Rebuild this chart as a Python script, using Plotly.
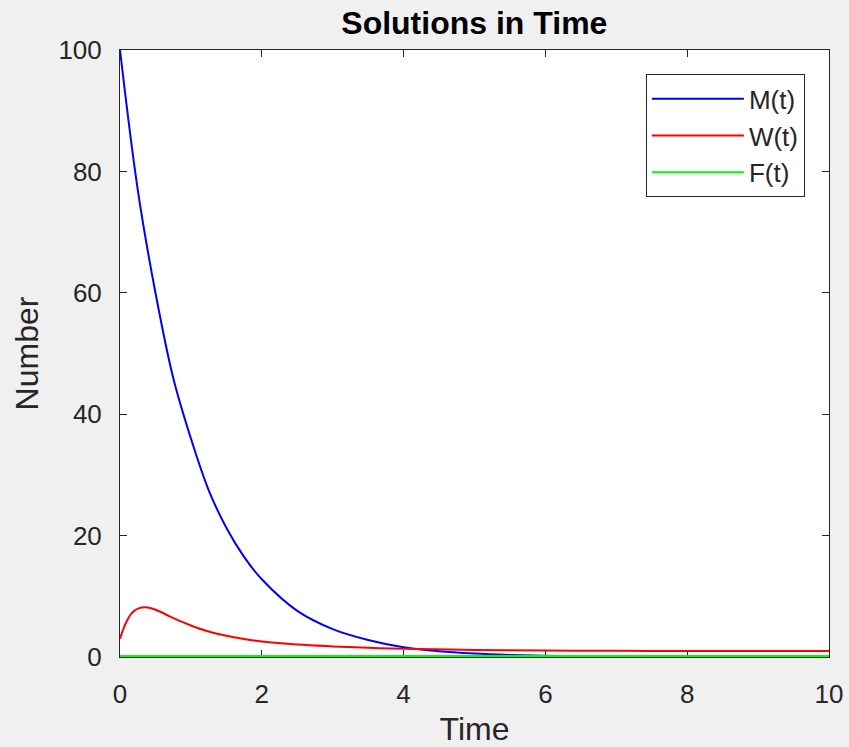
import plotly.graph_objects as go

# Time samples and values
t_M = [0, 0.25, 0.5, 0.75, 1.0, 1.25, 1.5, 1.75, 2.0, 2.5, 3.0, 3.5, 4.0, 4.5,
       5, 5.5, 6, 7, 8, 9, 10]
M_vals = [100, 77, 60, 46, 36, 27.5, 21.3, 16.5, 12.8, 7.6, 4.6, 2.8, 1.6, 0.95,
          0.58, 0.35, 0.2, 0.07, 0.03, 0.01, 0.0]

t_W = [0, 0.05, 0.1, 0.15, 0.2, 0.27, 0.35, 0.45, 0.56, 0.7, 0.85, 1.0, 1.25, 1.5,
       1.75, 2.0, 2.5, 3.0, 3.5, 4.0, 5, 6, 7, 8, 9, 10]
W_vals = [3.0, 4.7, 6.0, 7.0, 7.6, 8.05, 8.2, 8.0, 7.5, 6.7, 5.9, 5.2, 4.2, 3.5,
          2.95, 2.55, 2.05, 1.75, 1.52, 1.36, 1.17, 1.07, 1.02, 1.0, 1.0, 1.0]

t_F = [0, 2, 4, 6, 8, 10]
F_vals = [0, 0, 0, 0, 0, 0]

x_ticks = [0, 2, 4, 6, 8, 10]
y_ticks = [0, 20, 40, 60, 80, 100]

FONT = "Liberation Sans, Arial, sans-serif"
AX = "#262626"

fig = go.Figure()
fig.add_trace(go.Scatter(x=t_M, y=M_vals, mode="lines", name="M(t)", legendgroup="m",
                         line=dict(color="#0000ff", width=2, shape="spline", smoothing=1)))
fig.add_trace(go.Scatter(x=t_W, y=W_vals, mode="lines", name="W(t)", legendgroup="w",
                         line=dict(color="#ff0000", width=2, shape="spline", smoothing=1)))
# F(t) lies on the bottom axis edge, where half of the stroke is clipped: draw it wider
fig.add_trace(go.Scatter(x=t_F, y=F_vals, mode="lines", name="F(t)", legendgroup="f",
                         showlegend=False, line=dict(color="#00ff00", width=4)))
# legend entry for F(t) with the regular line width
fig.add_trace(go.Scatter(x=[None], y=[None], mode="lines", name="F(t)", legendgroup="f",
                         line=dict(color="#00ff00", width=2)))

axis_common = dict(
    showgrid=False, zeroline=False, showline=True, linecolor=AX, linewidth=1,
    mirror="ticks", ticks="inside", ticklen=7, tickcolor=AX, tickwidth=1,
    tickfont=dict(family=FONT, size=26, color=AX), automargin=False,
    layer="below traces",
)

fig.update_layout(
    width=849, height=747,
    paper_bgcolor="#f0f0f0", plot_bgcolor="white",
    margin=dict(l=120, r=20, t=50, b=90),
    title=dict(text="<b>Solutions in Time</b>", x=0.5587, xanchor="center",
               y=0.97, yanchor="middle",
               font=dict(family=FONT, size=32, color="#000000")),
    xaxis=dict(range=[0, 10], tickvals=x_ticks, ticktext=[str(v) for v in x_ticks],
               title=dict(text="Time", font=dict(family=FONT, size=32, color=AX), standoff=16),
               ticklabelstandoff=14, **axis_common),
    yaxis=dict(range=[0, 100], tickvals=y_ticks, ticktext=[str(v) for v in y_ticks],
               title=dict(text="Number", font=dict(family=FONT, size=32, color=AX), standoff=10),
               ticklabelstandoff=12, **axis_common),
    legend=dict(x=0.966, y=0.96, xanchor="right", yanchor="top",
                bgcolor="white", bordercolor=AX, borderwidth=1,
                font=dict(family=FONT, size=26, color=AX),
                itemwidth=92, tracegroupgap=0),
    showlegend=True,
)

fig.write_html("out.html")
